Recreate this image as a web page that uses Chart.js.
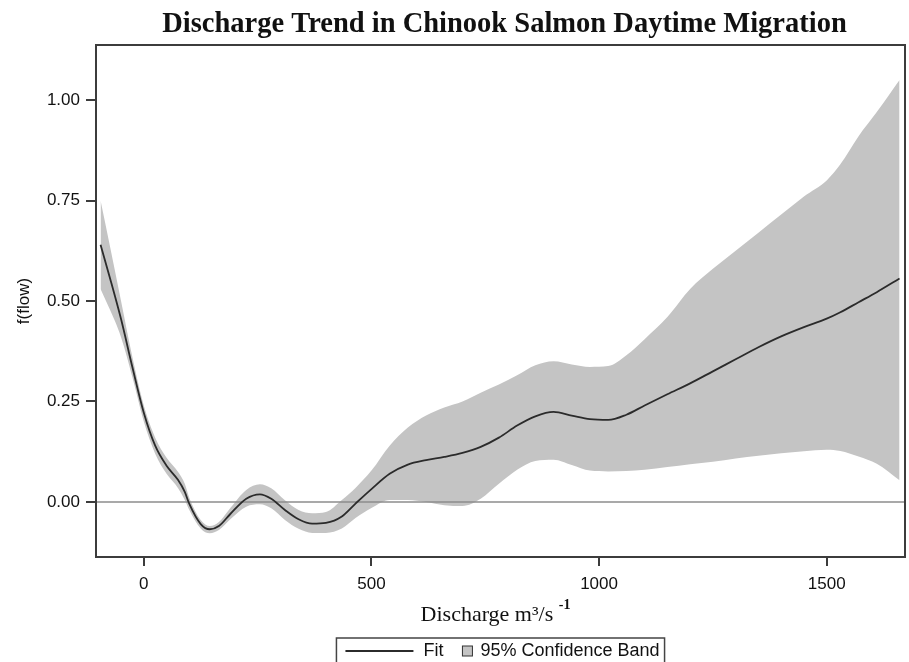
<!DOCTYPE html>
<html>
<head>
<meta charset="utf-8">
<script src="https://cdn.jsdelivr.net/npm/chart.js@4.4.1/dist/chart.umd.min.js"></script>
<style>
  html, body { margin: 0; padding: 0; background: #fff; }
</style>
</head>
<body>
<canvas id="trendChart" width="909" height="662"></canvas>
<script>
// discharge (m3/s) where the smooth was read
var flow = [-95, -75, -50, -25, 0, 25, 50, 75, 90, 100,
            125, 145, 165, 190, 225, 255, 280, 310, 340, 370,
            400, 435, 465, 500, 540, 580, 620, 660, 700, 740,
            780, 820, 860, 900, 940, 980, 1020, 1060, 1100, 1150,
            1200, 1250, 1300, 1350, 1400, 1450, 1500, 1530, 1570, 1610, 1660];
var fit = [0.64, 0.56, 0.455, 0.335, 0.222, 0.14, 0.09, 0.055, 0.025, -0.005,
           -0.055, -0.068, -0.06, -0.03, 0.008, 0.019, 0.008, -0.02, -0.043, -0.054,
           -0.052, -0.036, -0.004, 0.032, 0.07, 0.093, 0.104, 0.112, 0.122, 0.137,
           0.16, 0.19, 0.213, 0.224, 0.215, 0.206, 0.204, 0.217, 0.24, 0.268,
           0.295, 0.325, 0.355, 0.385, 0.412, 0.435, 0.456, 0.472, 0.497, 0.522, 0.556];
var upper = [0.75, 0.64, 0.50, 0.36, 0.24, 0.16, 0.11, 0.075, 0.045, 0.01,
             -0.045, -0.06, -0.05, -0.015, 0.03, 0.044, 0.034, 0.004, -0.02, -0.028,
             -0.025, 0.005, 0.035, 0.078, 0.14, 0.185, 0.215, 0.235, 0.25, 0.272,
             0.292, 0.315, 0.34, 0.35, 0.342, 0.336, 0.338, 0.365, 0.405, 0.46,
             0.53, 0.58, 0.625, 0.67, 0.715, 0.76, 0.80, 0.84, 0.91, 0.97, 1.05];
var lower = [0.53, 0.48, 0.41, 0.31, 0.20, 0.12, 0.07, 0.035, 0.005, -0.02,
             -0.066, -0.078, -0.07, -0.043, -0.012, -0.006, -0.016, -0.045, -0.067, -0.077,
             -0.077, -0.066, -0.04, -0.015, 0.005, 0.005, 0.0, -0.008, -0.01, 0.008,
             0.045, 0.08, 0.102, 0.105, 0.092, 0.078, 0.076, 0.077, 0.08, 0.087,
             0.094, 0.1, 0.108, 0.115, 0.121, 0.126, 0.13, 0.127, 0.113, 0.095, 0.054];
var xTicks = [0, 500, 1000, 1500];
var yTicks = [0, 0.25, 0.5, 0.75, 1.0];

var serif = '"Liberation Serif", "Times New Roman", serif';
var sans = '"Liberation Sans", Arial, sans-serif';

function pairs(ys) {
    return flow.map(function(x, i) { return { x: x, y: ys[i] }; });
}

var extras = {
    id: 'extras',
    beforeDatasetDraw: function(chart, args) {
        if (args.index !== 0) return;
        var ctx = chart.ctx, a = chart.chartArea;
        var y0 = chart.scales.y.getPixelForValue(0);
        ctx.save();
        ctx.strokeStyle = '#8c8c8c';
        ctx.lineWidth = 1.5;
        ctx.beginPath();
        ctx.moveTo(a.left, y0);
        ctx.lineTo(a.right, y0);
        ctx.stroke();
        ctx.restore();
    },
    afterDraw: function(chart) {
        var ctx = chart.ctx, a = chart.chartArea;
        var cx = (a.left + a.right) / 2;
        ctx.save();
        ctx.strokeStyle = '#3c3c3c';
        ctx.lineWidth = 2;
        ctx.strokeRect(a.left, a.top, a.right - a.left, a.bottom - a.top);

        // main title
        ctx.fillStyle = '#111';
        ctx.textAlign = 'center';
        ctx.textBaseline = 'alphabetic';
        ctx.font = 'bold 28.5px ' + serif;
        ctx.fillText('Discharge Trend in Chinook Salmon Daytime Migration', cx + 4, 32);

        // x axis title with superscript
        var main = 'Discharge m\u00b3/s ', sup = '-1';
        ctx.font = '22px ' + serif;
        var w1 = ctx.measureText(main).width;
        ctx.font = 'bold 14px ' + serif;
        var w2 = ctx.measureText(sup).width;
        var x0 = cx - 5 - (w1 + w2) / 2;
        ctx.textAlign = 'left';
        ctx.font = '22px ' + serif;
        ctx.fillText(main, x0, 621);
        ctx.font = 'bold 14px ' + serif;
        ctx.fillText(sup, x0 + w1, 609);

        // legend
        ctx.font = '18px ' + sans;
        var tFit = 'Fit', tBand = '95% Confidence Band';
        var wFit = ctx.measureText(tFit).width, wBand = ctx.measureText(tBand).width;
        var lineW = 68, sq = 10;
        var boxW = 9 + lineW + 10 + wFit + 19 + sq + 8 + wBand + 5;
        var bx = cx - boxW / 2, by = 638, midY = 651;
        ctx.strokeStyle = '#444';
        ctx.lineWidth = 1.5;
        ctx.strokeRect(bx, by, boxW, 40);
        var px = bx + 9;
        ctx.strokeStyle = '#2b2b2b';
        ctx.lineWidth = 1.8;
        ctx.beginPath();
        ctx.moveTo(px, midY);
        ctx.lineTo(px + lineW, midY);
        ctx.stroke();
        px += lineW + 10;
        ctx.textBaseline = 'middle';
        ctx.fillText(tFit, px, midY);
        px += wFit + 19;
        ctx.fillStyle = '#c4c4c4';
        ctx.fillRect(px, midY - sq / 2, sq, sq);
        ctx.strokeStyle = '#333';
        ctx.lineWidth = 1;
        ctx.strokeRect(px, midY - sq / 2, sq, sq);
        px += sq + 8;
        ctx.fillStyle = '#111';
        ctx.fillText(tBand, px, midY);
        ctx.restore();
    }
};

var ctx = document.getElementById('trendChart').getContext('2d');
var trendChart = new Chart(ctx, {
    type: 'line',
    data: {
        datasets: [{
            label: 'Fit',
            data: pairs(fit),
            borderColor: '#2b2b2b',
            borderWidth: 1.8,
            pointRadius: 0,
            fill: false,
            cubicInterpolationMode: 'monotone'
        }, {
            label: '95% Confidence Band',
            data: pairs(upper),
            borderWidth: 0,
            borderColor: 'rgba(0,0,0,0)',
            backgroundColor: '#c4c4c4',
            pointRadius: 0,
            fill: '+1',
            cubicInterpolationMode: 'monotone'
        }, {
            label: 'lower',
            data: pairs(lower),
            borderWidth: 0,
            borderColor: 'rgba(0,0,0,0)',
            pointRadius: 0,
            fill: false,
            cubicInterpolationMode: 'monotone'
        }]
    },
    options: {
        responsive: false,
        animation: false,
        layout: { padding: { left: 0, right: 4, top: 45, bottom: 55 } },
        plugins: {
            legend: { display: false },
            tooltip: { enabled: false },
            title: { display: false }
        },
        scales: {
            x: {
                type: 'linear',
                min: -105,
                max: 1672,
                afterBuildTicks: function(s) { s.ticks = xTicks.map(function(v) { return { value: v }; }); },
                afterFit: function(s) { s.height = 50; },
                border: { display: false },
                grid: { display: true, drawOnChartArea: false, drawTicks: true, tickLength: 9, color: '#3c3c3c', lineWidth: 2 },
                ticks: {
                    padding: 8, color: '#111', maxRotation: 0, font: { family: sans, size: 17 },
                    callback: function(v) { return String(v); }
                }
            },
            y: {
                min: -0.137,
                max: 1.137,
                afterBuildTicks: function(s) { s.ticks = yTicks.map(function(v) { return { value: v }; }); },
                afterFit: function(s) { s.width = 96; },
                border: { display: false },
                grid: { display: true, drawOnChartArea: false, drawTicks: true, tickLength: 10, color: '#3c3c3c', lineWidth: 2 },
                ticks: {
                    padding: 6, color: '#111', font: { family: sans, size: 17 },
                    callback: function(v) { return v.toFixed(2); }
                },
                title: { display: true, text: 'f(flow)', color: '#111', font: { family: sans, size: 17 }, padding: { top: 14, bottom: 0 } }
            }
        }
    },
    plugins: [extras]
});
</script>
</body>
</html>
